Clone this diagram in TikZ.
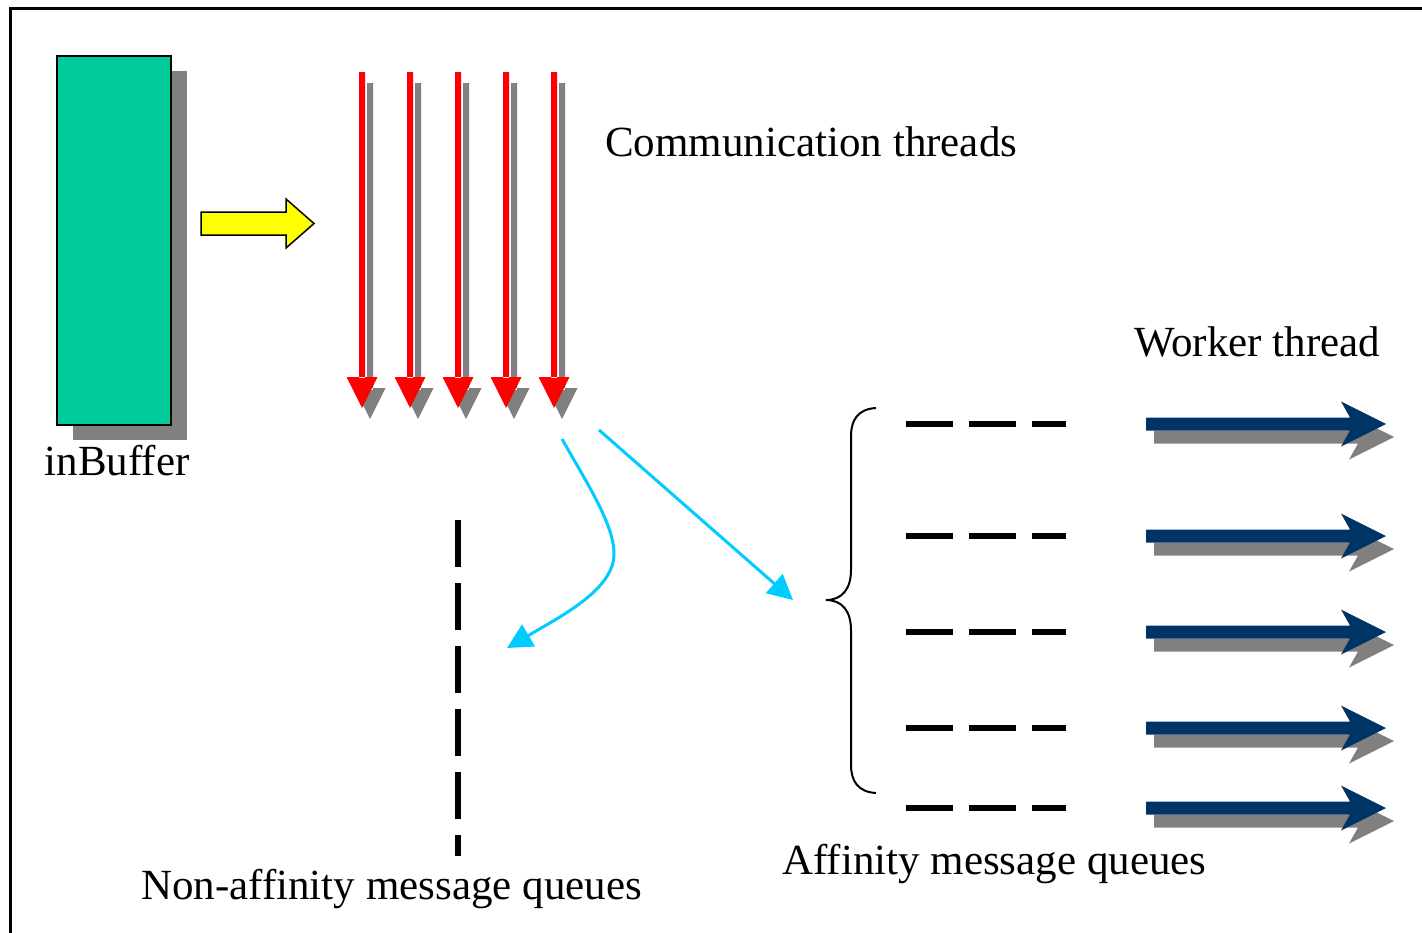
\documentclass[tikz,border=0pt]{standalone}
\usepackage{fontspec}
\setmainfont{Liberation Serif}
\usetikzlibrary{arrows.meta}
\definecolor{bufgreen}{HTML}{00CC99}
\definecolor{shadowgray}{HTML}{808080}
\definecolor{threadred}{HTML}{FF0000}
\definecolor{flowcyan}{HTML}{00CCFF}
\definecolor{workernavy}{HTML}{003366}
\definecolor{feedyellow}{HTML}{FFFF00}
\tikzset{
  label text/.style={inner sep=0pt, font=\fontsize{43}{50}\selectfont},
  shadowfill/.style={fill=shadowgray, draw=none},
  queuedash/.style={line width=6pt, dash pattern=on 47pt off 16pt},
  flow/.style={draw=flowcyan, line width=3pt, -{Triangle[length=25pt,width=25pt]}},
}
% red communication thread arrow with its grey drop shadow
\newcommand{\commthread}[1]{%
  \fill[shadowgray] (#1+5,83) rectangle (#1+11,390)
    (#1-7.5,388) -- (#1+23.5,388) -- (#1+8,419) -- cycle;
  \fill[threadred] (#1-3,72) rectangle (#1+3,378)
    (#1-15.5,377) -- (#1+15.5,377) -- (#1,408) -- cycle;
}
% navy worker thread arrow with its grey drop shadow
\newcommand{\workerarrow}[1]{%
  \fill[shadowgray] (1154,#1+6.5) -- (1358,#1+6.5) -- (1349,#1-9.5) -- (1394,#1+13)
    -- (1349,#1+35.5) -- (1358,#1+19.5) -- (1154,#1+19.5) -- cycle;
  \fill[workernavy] (1146,#1-6.5) -- (1350,#1-6.5) -- (1341,#1-22.5) -- (1386,#1)
    -- (1341,#1+22.5) -- (1350,#1+6.5) -- (1146,#1+6.5) -- cycle;
}
\begin{document}
\begin{tikzpicture}[x=1pt,y=-1pt]
\useasboundingbox (0,0) rectangle (1422,932);
\clip (0,0) rectangle (1422,932);
\fill[white] (0,0) rectangle (1422,932);
% outer frame (runs past the page on the right and bottom)
\draw[line width=3pt] (10,8) rectangle (1460,970);

% input buffer
\fill[shadowgray] (73,71) rectangle (187,440);
\node[draw, fill=bufgreen, line width=1.5pt, minimum width=114pt, minimum height=369pt, inner sep=0pt] (inbuf) at (114,240.5) {};
\node[label text, anchor=base] (inbuflabel) at (117,475) {inBuffer};

% feed arrow
\draw[fill=feedyellow, line width=1.5pt, line join=miter]
  (201,212) -- (286,212) -- (286,199) -- (314,223.5) -- (286,248) -- (286,235) -- (201,235) -- cycle;

% communication threads
\foreach \x in {362,410,458,506,554} { \commthread{\x} }
\node[label text, anchor=base west] (commlabel) at (605,156) {Communication threads};

% non-affinity queue
\draw[queuedash] (458,520) -- (458,856);
\node[label text, anchor=base west] (nonafflabel) at (141,899) {Non-affinity message queues};

% affinity queues
\foreach \y in {424,536,632,728,808} { \draw[queuedash] (906,\y) -- (1066,\y); }
\draw[line width=2pt]
  (876,408) .. controls (858,409) and (851,420) .. (851,436) -- (851,570)
  .. controls (851,589) and (842,600) .. (826,600)
  .. controls (842,600) and (851,611) .. (851,630) -- (851,765)
  .. controls (851,781) and (858,792) .. (876,793);
\node[label text, anchor=base west] (afflabel) at (782,874) {Affinity message queues};

% worker threads
\foreach \y in {424,536,632,728,808} { \workerarrow{\y} }
\node[label text, anchor=base west] (workerlabel) at (1134,356) {Worker thread};

% dispatch flows
\coordinate (flowA) at (562,439);
\coordinate (flowAend) at (507,648);
\coordinate (flowB) at (599,430);
\coordinate (flowBend) at (793,600);
\draw[flow] (flowA) .. controls (592,492) and (622,537) .. (612,566)
  .. controls (602,595) and (560,617) .. (flowAend);
\draw[flow] (flowB) -- (flowBend);
\end{tikzpicture}
\end{document}
